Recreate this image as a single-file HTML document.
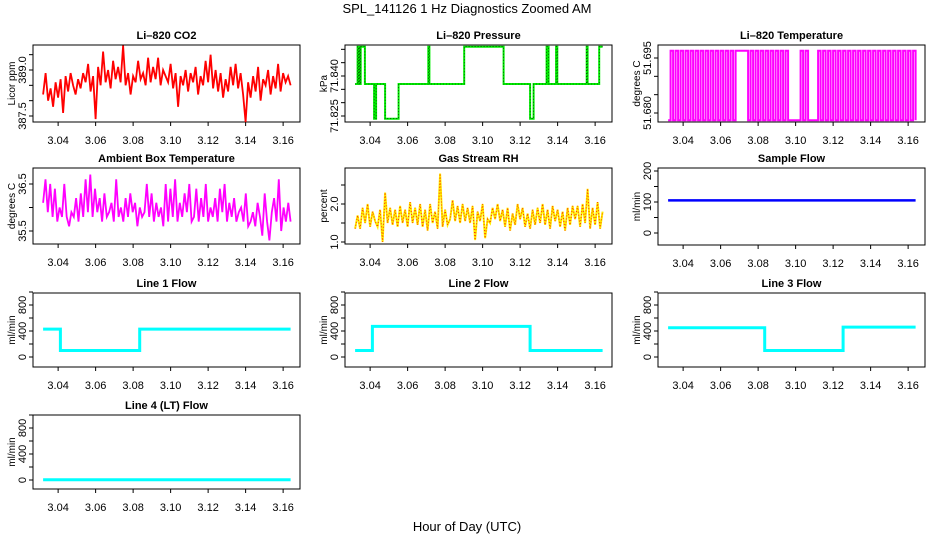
<!DOCTYPE html>
<html><head><meta charset="utf-8"><style>
html,body{margin:0;padding:0;background:#fff;}
svg{display:block;font-family:"Liberation Sans",sans-serif;}
</style></head><body>
<svg id="fig" width="936" height="540" viewBox="0 0 936 540" xmlns="http://www.w3.org/2000/svg">
<rect width="936" height="540" fill="#fff"/>
<text x="467" y="13" font-size="13" text-anchor="middle">SPL_141126  1 Hz Diagnostics Zoomed AM</text>
<text x="467" y="531" font-size="13" text-anchor="middle">Hour of Day (UTC)</text>
</svg>
<script>
// ---- data ----
const xTicks = [3.04,3.06,3.08,3.10,3.12,3.14,3.16];
const xTickLabels = ["3.04","3.06","3.08","3.10","3.12","3.14","3.16"];
const tStart = 3.032, tEnd = 3.164;

const co2 = [388.2,388.9,388.0,388.4,387.8,388.6,388.1,388.7,387.6,388.8,388.3,388.9,388.5,388.2,388.7,388.4,388.9,388.6,389.2,388.3,388.8,387.4,389.1,388.5,389.6,388.6,389.0,388.4,389.3,388.7,389.1,388.6,389.8,388.5,388.9,388.2,388.8,388.6,389.3,388.7,388.9,388.5,389.4,388.6,389.1,388.7,389.4,388.5,389.0,388.8,388.6,389.2,388.4,388.9,387.8,388.8,388.5,389.0,388.3,388.9,388.6,389.1,388.2,388.8,388.5,389.3,388.6,389.5,388.4,389.0,388.3,388.9,388.1,388.7,388.3,389.1,388.5,389.2,388.4,388.9,388.2,387.3,388.6,388.1,388.8,388.3,389.1,388.0,388.7,388.5,389.0,388.2,388.8,388.4,389.2,388.3,388.9,388.6,388.8,388.5];
const co2Ticks = [387.5,388.0,388.5,389.0,389.5];
const co2Labels = ["387.5","","","389.0",""];

const presTimes = [3.032,3.0333,3.0337,3.0342,3.0346,3.035,3.0354,3.0372,3.0421,3.0432,3.048,3.0552,3.071,3.0716,3.0902,3.1112,3.1253,3.1272,3.1341,3.1352,3.1392,3.1398,3.1555,3.156,3.1622,3.164];
const presVals  = [71.837,71.851,71.837,71.851,71.837,71.851,71.851,71.837,71.824,71.837,71.824,71.837,71.851,71.837,71.851,71.837,71.824,71.837,71.851,71.837,71.851,71.837,71.851,71.837,71.851,71.851];
const presTicks = [71.825,71.830,71.835,71.840,71.845,71.850];
const presLabels = ["71.825","","","71.840","",""];

const ltemp = [51.678,51.697,51.678,51.697,51.678,51.697,51.678,51.697,51.678,51.697,51.678,51.697,51.678,51.697,51.678,51.697,51.678,51.697,51.678,51.697,51.678,51.697,51.678,51.697,51.678,51.697,51.678,51.697,51.697,51.697,51.697,51.697,51.678,51.697,51.678,51.697,51.678,51.697,51.678,51.697,51.678,51.697,51.678,51.697,51.678,51.697,51.678,51.697,51.678,51.678,51.678,51.678,51.678,51.697,51.678,51.697,51.678,51.678,51.678,51.678,51.697,51.678,51.697,51.678,51.697,51.678,51.697,51.678,51.697,51.678,51.697,51.678,51.697,51.678,51.697,51.678,51.697,51.678,51.697,51.678,51.697,51.678,51.697,51.678,51.697,51.678,51.697,51.678,51.697,51.678,51.697,51.678,51.697,51.678,51.697,51.678,51.697,51.678,51.697,51.678];
const ltempTicks = [51.680,51.685,51.690,51.695];
const ltempLabels = ["51.680","","","51.695"];

const amb = [36.1,36.6,35.9,36.5,35.8,36.4,35.7,36.0,35.8,36.5,35.8,35.6,35.9,35.8,36.2,35.7,36.3,35.8,36.6,35.9,36.7,35.8,36.4,35.9,36.2,35.7,36.3,35.8,35.9,36.1,35.7,36.6,35.8,36.0,35.7,36.2,35.8,36.3,35.9,36.1,35.6,36.0,35.8,35.9,36.5,35.8,36.3,35.7,36.1,35.8,36.0,35.6,36.5,35.7,36.4,35.8,36.6,35.7,36.1,35.8,36.3,35.9,36.5,35.7,35.8,36.4,35.7,36.2,35.8,36.5,35.7,36.0,35.8,36.2,35.7,36.4,35.9,36.5,35.7,36.1,35.8,36.2,35.7,35.9,36.0,35.7,36.3,35.6,35.7,35.9,35.6,36.1,35.8,35.4,36.3,35.7,35.3,35.9,36.2,35.7,36.6,35.5,36.0,35.7,36.1,35.7];
const ambTicks = [35.5,36.0,36.5];
const ambLabels = ["35.5","","36.5"];

const rh = [1.35,1.7,1.35,1.9,1.5,2.0,1.4,1.8,1.55,1.4,1.85,1.0,2.3,1.5,1.9,1.45,1.85,1.4,1.95,1.5,1.85,1.4,2.05,1.5,1.9,1.45,2.0,1.4,1.85,1.3,2.0,1.5,1.8,1.35,2.8,1.4,1.85,1.45,1.6,2.1,1.55,1.95,1.5,2.0,1.55,1.9,1.5,1.95,1.05,1.8,1.55,2.0,1.1,1.6,1.5,1.9,1.6,2.0,1.55,1.85,1.4,1.9,1.3,1.75,1.45,2.0,1.6,1.9,1.4,1.75,1.35,1.85,1.45,1.9,1.5,2.0,1.45,1.85,1.35,1.95,1.55,1.85,1.4,1.8,1.3,1.9,1.45,1.95,1.6,1.95,1.4,2.0,1.5,2.4,1.35,1.9,1.45,2.05,1.35,1.8];
const rhTicks = [1.0,1.5,2.0,2.5];
const rhLabels = ["1.0","","2.0",""];

const sampleTimes = [3.032,3.164];
const sampleVals = [105,105];
const sampleTicks = [0,50,100,150,200];
const sampleLabels = ["0","","100","","200"];

const flowTicks = [0,200,400,600,800,1000];
const flowLabels = ["0","","400","","800",""];
const line1Times = [3.032,3.0412,3.0835,3.164];
const line1Vals  = [430,100,430,430];
const line2Times = [3.032,3.0412,3.1253,3.164];
const line2Vals  = [100,470,100,100];
const line3Times = [3.032,3.0835,3.1253,3.164];
const line3Vals  = [450,100,460,460];
const line4Times = [3.032,3.164];
const line4Vals  = [5,5];

// ---- layout ----
const NS = "http://www.w3.org/2000/svg";
const svg = document.getElementById('fig');
const XMIN = 3.0266, XMAX = 3.1690, W = 267;
function mk(tag, parent){ const e = document.createElementNS(NS, tag); parent.appendChild(e); return e; }

function panel(name, title, left, top, bottom, yRef, ticks, labels, ylab){
  const g = mk('g', svg);
  
  
  const xs = v => left + (v - XMIN) / (XMAX - XMIN) * W;
  const ys = v => yRef[1] + (v - yRef[0]) / (yRef[2] - yRef[0]) * (yRef[3] - yRef[1]);
  const box = mk('rect', g);
  box.setAttribute('x', left); box.setAttribute('y', top); box.setAttribute('width', W); box.setAttribute('height', bottom - top);
  box.setAttribute('fill', 'none'); box.setAttribute('stroke', '#000'); box.setAttribute('stroke-width', '1');
  
  
  const t = mk('text', g);
  t.setAttribute('x', left + W / 2); t.setAttribute('y', top - 6); t.setAttribute('font-size', '11'); t.setAttribute('font-weight', 'bold'); t.setAttribute('text-anchor', 'middle');
  t.textContent = title;
  
  
  xTicks.forEach((v, i) => {
    const x = xs(v);
    const l = mk('line', g);
    l.setAttribute('x1', x); l.setAttribute('x2', x); l.setAttribute('y1', bottom); l.setAttribute('y2', bottom + 4); l.setAttribute('stroke', '#000');
    
    
    const tx = mk('text', g);
    tx.setAttribute('x', x); tx.setAttribute('y', bottom + 22); tx.setAttribute('font-size', '11'); tx.setAttribute('text-anchor', 'middle');
    tx.textContent = xTickLabels[i];
    
    
  });
  ticks.forEach((v, i) => {
    const y = ys(v);
    const l = mk('line', g);
    l.setAttribute('x1', left - 4); l.setAttribute('x2', left); l.setAttribute('y1', y); l.setAttribute('y2', y); l.setAttribute('stroke', '#000');
    
    
    if (labels[i]) {
      const tx = mk('text', g);
      tx.setAttribute('transform', 'translate(' + (left - 7) + ',' + y + ') rotate(-90)');
      tx.setAttribute('font-size', '11'); tx.setAttribute('text-anchor', 'middle');
      tx.textContent = labels[i];
      
      
    }
  });
  const yl = mk('text', g);
  yl.setAttribute('transform', 'translate(' + (left - 18) + ',' + ((top + bottom) / 2) + ') rotate(-90)');
  yl.setAttribute('font-size', '10'); yl.setAttribute('text-anchor', 'middle');
  yl.textContent = ylab;
  
  
  return {g, xs, ys};
}

function series(p, vals, color, sw, name, stepped){
  const n = vals.length;
  const pts = [];
  vals.forEach((v, i) => {
    const x = p.xs(tStart + (tEnd - tStart) * i / (n - 1)).toFixed(1);
    if (stepped && i > 0) pts.push(x + ',' + p.ys(vals[i - 1]).toFixed(1));
    pts.push(x + ',' + p.ys(v).toFixed(1));
  });
  const pl = mk('polyline', p.g);
  pl.setAttribute('points', pts.join(' '));
  pl.setAttribute('fill', 'none'); pl.setAttribute('stroke', color); pl.setAttribute('stroke-width', sw);
  
  
  return pl;
}
function steps(p, times, vals, color, sw, name){
  const pts = [];
  for (let i = 0; i < times.length; i++) {
    if (i > 0) pts.push(p.xs(times[i]).toFixed(1) + ',' + p.ys(vals[i - 1]).toFixed(1));
    pts.push(p.xs(times[i]).toFixed(1) + ',' + p.ys(vals[i]).toFixed(1));
  }
  const pl = mk('polyline', p.g);
  pl.setAttribute('points', pts.join(' '));
  pl.setAttribute('fill', 'none'); pl.setAttribute('stroke', color); pl.setAttribute('stroke-width', sw);
  
  
  return pl;
}

const C1 = 33, C2 = 345, C3 = 658;
// row 1
let p = panel('co2', 'Li–820 CO2', C1, 45, 122, [389.0, 70, 387.5, 116], co2Ticks, co2Labels, 'Licor ppm');
series(p, co2, '#ff0000', 1.8, 'co2-line', false);
p = panel('pressure', 'Li–820 Pressure', C2, 45, 122, [71.840, 76, 71.825, 116], presTicks, presLabels, 'kPa');
steps(p, presTimes, presVals, '#00ee00', 2, 'pressure-line');
steps(p, presTimes, presVals, '#000', 0.6, 'pressure-points').setAttribute('stroke-dasharray', '1,2');
p = panel('licor-temp', 'Li–820 Temperature', C3, 45, 122, [51.695, 58, 51.680, 113], ltempTicks, ltempLabels, 'degrees C');
series(p, ltemp, '#ff00ff', 2, 'licor-temp-line', true);
// row 2
p = panel('ambient-temp', 'Ambient Box Temperature', C1, 168, 244, [36.5, 184, 35.5, 231], ambTicks, ambLabels, 'degrees C');
series(p, amb, '#ff00ff', 1.8, 'ambient-temp-line', false);
p = panel('rh', 'Gas Stream RH', C2, 168, 244, [2.0, 204, 1.0, 242], rhTicks, rhLabels, 'percent');
series(p, rh, '#ffee00', 2, 'rh-line', false);
series(p, rh, '#ff3300', 1, 'rh-points', false).setAttribute('stroke-dasharray', '1,2');
p = panel('sample-flow', 'Sample Flow', C3, 168, 245, [200, 171, 0, 233], sampleTicks, sampleLabels, 'ml/min');
steps(p, sampleTimes, sampleVals, '#0000ff', 2.5, 'sample-flow-line');
// row 3
p = panel('line1-flow', 'Line 1 Flow', C1, 293, 367, [800, 305, 0, 357], flowTicks, flowLabels, 'ml/min');
steps(p, line1Times, line1Vals, '#00ffff', 3, 'line1-flow-line');
p = panel('line2-flow', 'Line 2 Flow', C2, 293, 367, [800, 305, 0, 357], flowTicks, flowLabels, 'ml/min');
steps(p, line2Times, line2Vals, '#00ffff', 3, 'line2-flow-line');
p = panel('line3-flow', 'Line 3 Flow', C3, 293, 367, [800, 305, 0, 357], flowTicks, flowLabels, 'ml/min');
steps(p, line3Times, line3Vals, '#00ffff', 3, 'line3-flow-line');
// row 4
p = panel('line4-flow', 'Line 4 (LT) Flow', C1, 415, 489, [800, 428, 0, 480], flowTicks, flowLabels, 'ml/min');
steps(p, line4Times, line4Vals, '#00ffff', 3, 'line4-flow-line');
</script>
</body></html>
